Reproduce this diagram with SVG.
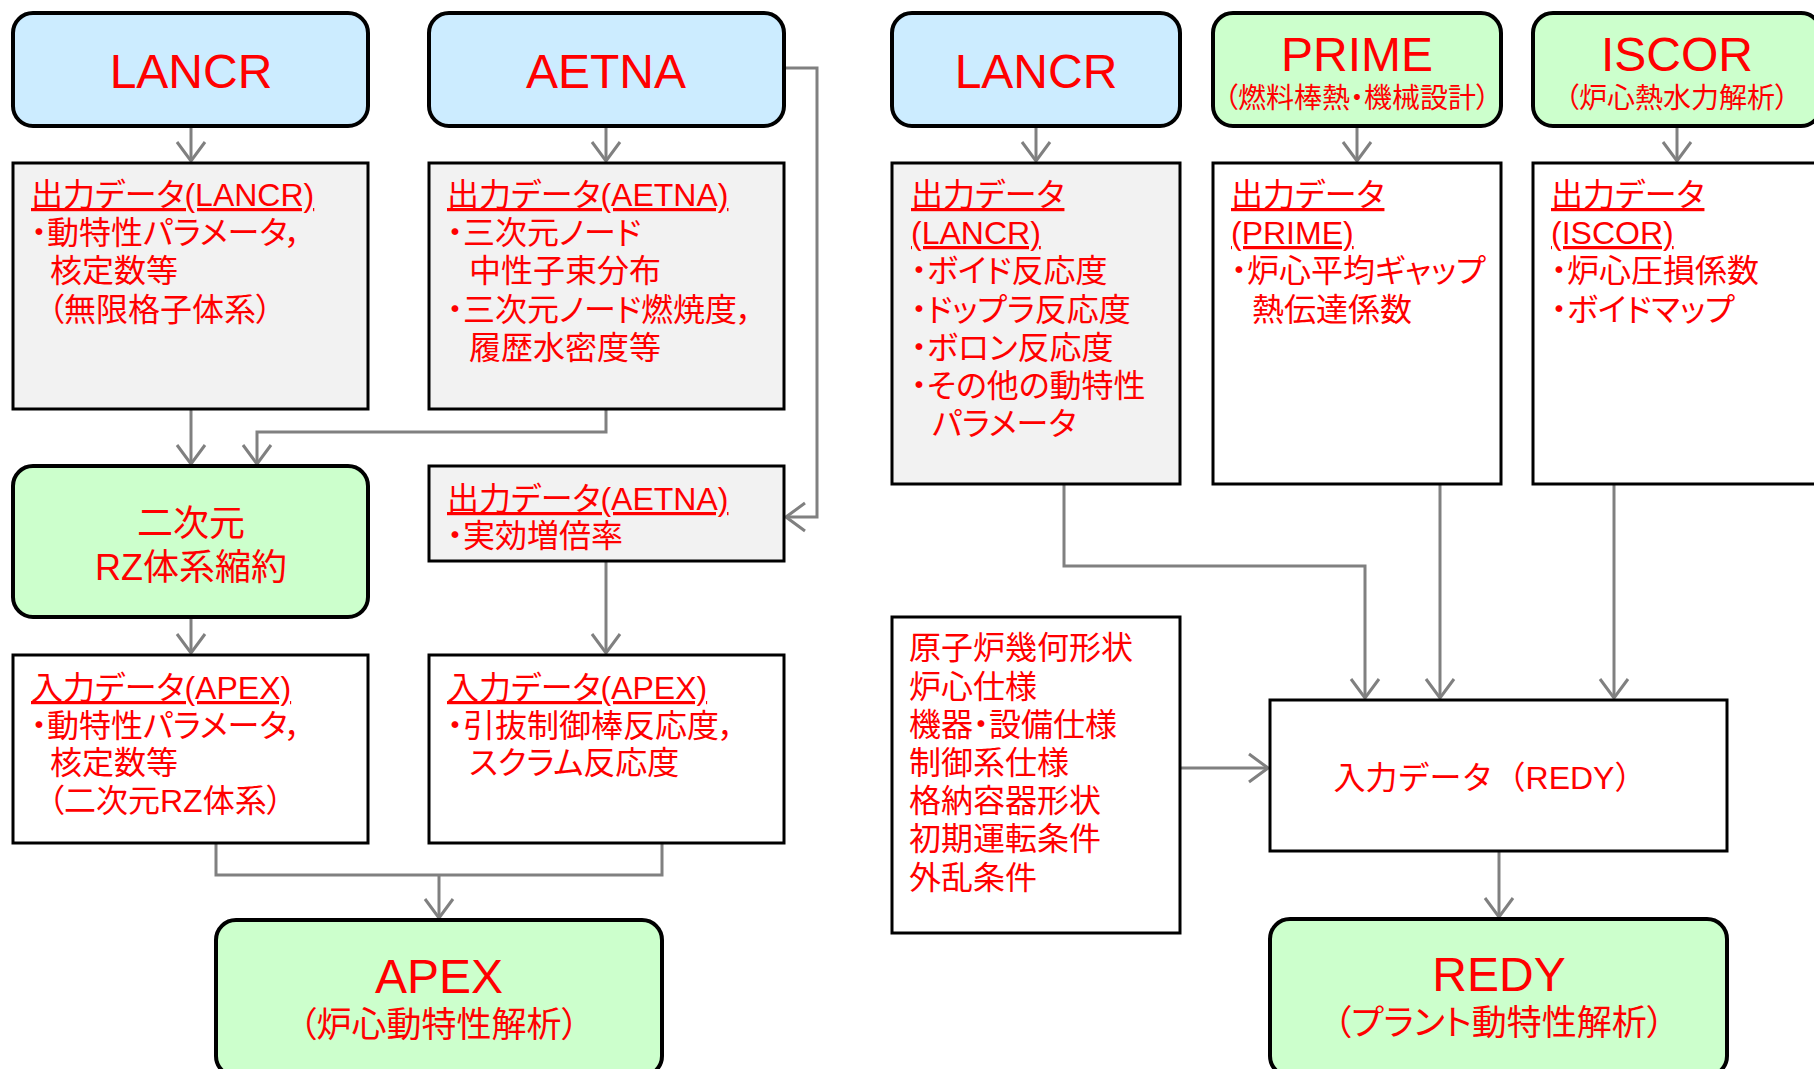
<svg xmlns="http://www.w3.org/2000/svg" width="1814" height="1069" viewBox="0 0 1814 1069">
<defs>
<style>
.rb{fill:#CCECFF;stroke:#000;stroke-width:4}
.rg{fill:#CCFFCC;stroke:#000;stroke-width:4}
.bg{fill:#F2F2F2;stroke:#000;stroke-width:3}
.bw{fill:#FFFFFF;stroke:#000;stroke-width:3}
.c{fill:none;stroke:#808080;stroke-width:3}
text{font-family:"Liberation Sans","Noto Sans CJK JP",sans-serif;fill:#FF0000;font-feature-settings:"palt" 1}
.b{font-size:32px}
.u{text-decoration:underline}
.big{font-size:48px;text-anchor:middle}
.m{text-anchor:middle}
.fw{font-feature-settings:normal}
</style>
<marker id="ah" viewBox="-21 -16 23 32" refX="0" refY="0" markerWidth="23" markerHeight="32" markerUnits="userSpaceOnUse" orient="auto">
<path d="M-19,-14 L0,0 L-19,14" fill="none" stroke="#808080" stroke-width="3"/>
</marker>
</defs>
<rect width="1814" height="1069" fill="#FFFFFF"/>

<g id="connectors">
<path class="c" d="M191,126 V161" marker-end="url(#ah)"/>
<path class="c" d="M606,126 V161" marker-end="url(#ah)"/>
<path class="c" d="M785,68 H817 V517 H786" marker-end="url(#ah)"/>
<path class="c" d="M191,409 V464" marker-end="url(#ah)"/>
<path class="c" d="M606,409 V432 H257 V464" marker-end="url(#ah)"/>
<path class="c" d="M191,617 V653" marker-end="url(#ah)"/>
<path class="c" d="M606,561 V653" marker-end="url(#ah)"/>
<path class="c" d="M216,843 V875 H662 V843"/>
<path class="c" d="M439,875 V918" marker-end="url(#ah)"/>
<path class="c" d="M1036,126 V161" marker-end="url(#ah)"/>
<path class="c" d="M1357,126 V161" marker-end="url(#ah)"/>
<path class="c" d="M1677,126 V161" marker-end="url(#ah)"/>
<path class="c" d="M1064,484 V566 H1365 V698" marker-end="url(#ah)"/>
<path class="c" d="M1440,484 V698" marker-end="url(#ah)"/>
<path class="c" d="M1614,484 V698" marker-end="url(#ah)"/>
<path class="c" d="M1180,768 H1268" marker-end="url(#ah)"/>
<path class="c" d="M1499,851 V917" marker-end="url(#ah)"/>
</g>

<g id="lancr-left">
<rect class="rb" x="13" y="13" width="355" height="113" rx="20"/>
<text class="big" x="191" y="88">LANCR</text>
</g>
<g id="aetna">
<rect class="rb" x="429" y="13" width="355" height="113" rx="20"/>
<text class="big" x="606" y="88">AETNA</text>
</g>
<g id="out-lancr-left">
<rect class="bg" x="13" y="163" width="355" height="246"/>
<text class="b u" x="31" y="206">出力データ(LANCR)</text>
<text class="b" x="31" y="244">・動特性パラメータ，</text>
<text class="b" x="50" y="282">核定数等</text>
<text class="b" x="48" y="321">（無限格子体系）</text>
</g>
<g id="out-aetna">
<rect class="bg" x="429" y="163" width="355" height="246"/>
<text class="b u" x="447" y="206">出力データ(AETNA)</text>
<text class="b" x="447" y="244">・三次元ノード</text>
<text class="b" x="469" y="282">中性子束分布</text>
<text class="b" x="447" y="321">・三次元ノード燃焼度，</text>
<text class="b" x="469" y="359">履歴水密度等</text>
</g>
<g id="rz">
<rect class="rg" x="13" y="466" width="355" height="151" rx="20"/>
<text class="m" x="191" y="536" font-size="36">二次元</text>
<text class="m" x="191" y="580" font-size="36">RZ体系縮約</text>
</g>
<g id="out-aetna-keff">
<rect class="bg" x="429" y="466" width="355" height="95"/>
<text class="b u" x="447" y="510">出力データ(AETNA)</text>
<text class="b" x="447" y="547">・実効増倍率</text>
</g>
<g id="in-apex-left">
<rect class="bw" x="13" y="655" width="355" height="188"/>
<text class="b u" x="31" y="699">入力データ(APEX)</text>
<text class="b" x="31" y="737">・動特性パラメータ，</text>
<text class="b" x="50" y="774">核定数等</text>
<text class="b" x="48" y="812">（二次元RZ体系）</text>
</g>
<g id="in-apex-right">
<rect class="bw" x="429" y="655" width="355" height="188"/>
<text class="b u" x="447" y="699">入力データ(APEX)</text>
<text class="b" x="447" y="737">・引抜制御棒反応度，</text>
<text class="b" x="469" y="774">スクラム反応度</text>
</g>
<g id="apex">
<rect class="rg" x="216" y="920" width="446" height="156" rx="20"/>
<text class="big" x="439" y="993">APEX</text>
<text class="m" x="439" y="1037" font-size="35">（炉心動特性解析）</text>
</g>

<g id="lancr-right">
<rect class="rb" x="892" y="13" width="288" height="113" rx="20"/>
<text class="big" x="1036" y="88">LANCR</text>
</g>
<g id="prime">
<rect class="rg" x="1213" y="13" width="288" height="113" rx="20"/>
<text class="big" x="1357" y="71">PRIME</text>
<text class="m" x="1357" y="108" font-size="28">（燃料棒熱・機械設計）</text>
</g>
<g id="iscor">
<rect class="rg" x="1533" y="13" width="288" height="113" rx="20"/>
<text class="big" x="1677" y="71">ISCOR</text>
<text class="m" x="1677" y="108" font-size="28">（炉心熱水力解析）</text>
</g>
<g id="out-lancr-right">
<rect class="bg" x="892" y="163" width="288" height="321"/>
<text class="b u" x="911" y="206">出力データ</text>
<text class="b u" x="911" y="244">(LANCR)</text>
<text class="b" x="911" y="282">・ボイド反応度</text>
<text class="b" x="911" y="321">・ドップラ反応度</text>
<text class="b" x="911" y="359">・ボロン反応度</text>
<text class="b" x="911" y="397">・その他の動特性</text>
<text class="b" x="932" y="435">パラメータ</text>
</g>
<g id="out-prime">
<rect class="bw" x="1213" y="163" width="288" height="321"/>
<text class="b u" x="1231" y="206">出力データ</text>
<text class="b u" x="1231" y="244">(PRIME)</text>
<text class="b" x="1231" y="282">・炉心平均ギャップ</text>
<text class="b" x="1252" y="321">熱伝達係数</text>
</g>
<g id="out-iscor">
<rect class="bw" x="1533" y="163" width="288" height="321"/>
<text class="b u" x="1551" y="206">出力データ</text>
<text class="b u" x="1551" y="244">(ISCOR)</text>
<text class="b" x="1551" y="282">・炉心圧損係数</text>
<text class="b" x="1551" y="321">・ボイドマップ</text>
</g>
<g id="plant-data">
<rect class="bw" x="892" y="617" width="288" height="316"/>
<text class="b" x="909" y="659">原子炉幾何形状</text>
<text class="b" x="909" y="698">炉心仕様</text>
<text class="b" x="909" y="736">機器・設備仕様</text>
<text class="b" x="909" y="774">制御系仕様</text>
<text class="b" x="909" y="812">格納容器形状</text>
<text class="b" x="909" y="850">初期運転条件</text>
<text class="b" x="909" y="889">外乱条件</text>
</g>
<g id="in-redy">
<rect class="bw" x="1270" y="700" width="457" height="151"/>
<text class="b m fw" x="1490" y="789">入力データ（REDY）</text>
</g>
<g id="redy">
<rect class="rg" x="1270" y="919" width="457" height="157" rx="20"/>
<text class="big" x="1499" y="991">REDY</text>
<text class="m" x="1499" y="1035" font-size="35">（プラント動特性解析）</text>
</g>
</svg>
